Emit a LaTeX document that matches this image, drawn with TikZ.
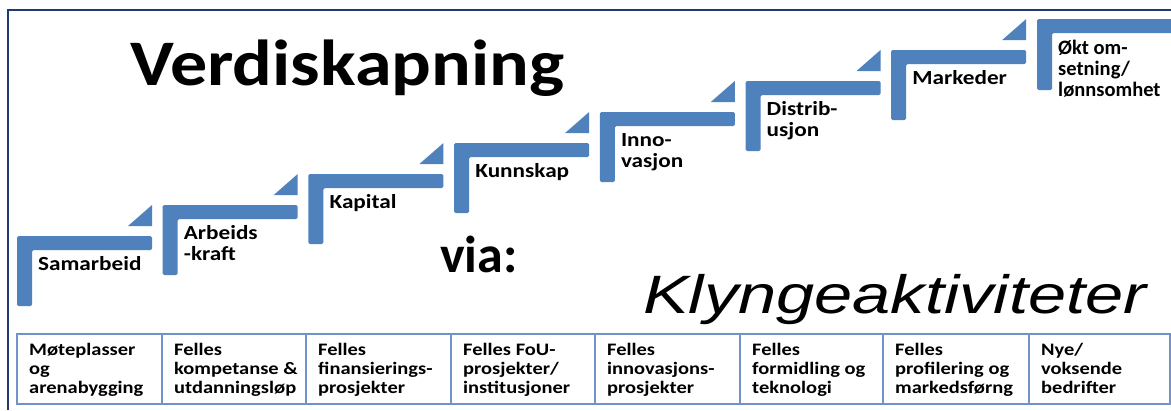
\documentclass[tikz,border=0pt]{standalone}
\usepackage{fontspec}
\setmainfont{Carlito}
\newfontfamily\widefont[FakeStretch=1.16]{Carlito}
\newfontfamily\titlefont[FakeStretch=1.14]{Carlito}
\newfontfamily\cellfont[FakeStretch=1.17]{Carlito}
\newfontfamily\klyngefont[FakeStretch=1.27]{Liberation Sans}
\definecolor{stepblue}{HTML}{4F81BD}
\definecolor{navyline}{HTML}{1F3A70}
\definecolor{cellline}{HTML}{7094C8}
\tikzset{
  stepshape/.style={fill=stepblue, rounded corners=1.5pt},
  steptri/.style={fill=stepblue},
  steplabel/.style={anchor=base west, inner sep=0pt, align=left, font=\widefont\fontsize{20}{21}\selectfont\bfseries},
  lastlabel/.style={anchor=base west, inner sep=0pt, align=left, font=\fontsize{20.5}{21}\selectfont\bfseries},
  cellbox/.style={draw=cellline, line width=1.6pt, anchor=north west, minimum height=70pt, inner sep=0pt},
  celltext/.style={anchor=base west, inner sep=0pt, align=left, font=\cellfont\fontsize{17.5}{19}\selectfont\bfseries},
}
\begin{document}
\begin{tikzpicture}[x=1pt,y=-1pt]
\useasboundingbox (0,0) rectangle (1171,410);
% frame lines
\draw[navyline, line width=2.4pt] (8,410) -- (8,10) -- (1172,10);
% title texts
\node[anchor=base west, inner sep=0pt, font=\titlefont\fontsize{65}{70}\selectfont\bfseries] (title) at (130,85) {Verdiskapning};
\node[anchor=base west, inner sep=0pt, font=\fontsize{52}{60}\selectfont\bfseries] (via) at (440,272) {via:};
\node[anchor=base west, inner sep=0pt, font=\klyngefont\itshape\fontsize{54}{60}\selectfont] (klynge) at (643,313) {Klyngeaktiviteter};
% steps
\foreach \i/\n/\txt in {0/0/Samarbeid, 1/1/{Arbeids\\-kraft}, 2/0/Kapital, 3/0/Kunnskap, 4/1/{Inno-\\vasjon}, 5/1/{Distrib-\\usjon}, 6/0/Markeder}{
  \pgfmathsetmacro{\L}{17+145.7*\i}
  \pgfmathsetmacro{\T}{236-31*\i}
  \pgfmathsetmacro{\R}{\L+135}
  \fill[stepshape] (\L,\T+70) -- (\L,\T) -- (\R,\T) -- (\R,\T+14) -- (\L+15,\T+14) -- (\L+15,\T+70) -- cycle;
  \fill[steptri] (\R,\T-31) -- (\R,\T-10) -- (\R-24,\T-10) -- cycle;
  \node[steplabel] (s\i) at (\L+21,\T+34+21*\n) {\txt};
}
% last step, running off the right edge
\fill[stepshape] (1037,90) -- (1037,19) -- (1185,19) -- (1185,33) -- (1052,33) -- (1052,90) -- cycle;
\node[lastlabel] (s7) at (1058,96) {Økt om-\\setning/\\lønnsomhet};
% table
\foreach \x/\w/\txt [count=\k] in {
  16/145/{Møteplasser\\og\\arenabygging},
  161/144/{Felles\\kompetanse \&\\utdanningsløp},
  305/145/{Felles\\finansierings-\\prosjekter},
  450/144/{Felles FoU-\\prosjekter/\\institusjoner},
  594/145/{Felles\\innovasjons-\\prosjekter},
  739/143/{Felles\\formidling og\\teknologi},
  882/146/{Felles\\profilering og\\markedsførng},
  1028/141/{Nye/\\voksende\\bedrifter}}{
  \node[cellbox, minimum width=\w pt] (c\k) at (\x,333) {};
  \node[celltext] (t\k) at (\x+13,393) {\txt};
}
\end{tikzpicture}
\end{document}
